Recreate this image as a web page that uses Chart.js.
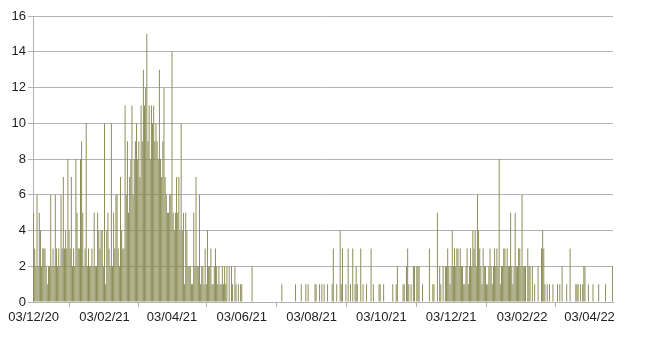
<!DOCTYPE html>
<html>
<head>
<meta charset="utf-8">
<script src="https://cdn.jsdelivr.net/npm/chart.js@4"></script>
<style>
  body { margin: 0; background: #fff; }
  canvas { display: block; }
</style>
</head>
<body>
<canvas id="grafico" width="650" height="341"></canvas>
<script>
// primeiro dia da serie (03/12/2020)
const startDate = [2020, 11, 3];

// contagem diaria, um valor por dia a partir de 03/12/20
const dailyCounts = [
  5,3,2,6,2,5,4,2,3,3,  3,2,1,2,2,6,2,3,2,6,  3,2,3,2,6,3,7,3,4,3,
  8,4,3,7,2,3,2,8,5,3,  3,8,9,5,2,3,10,2,3,2, 2,3,2,5,2,2,5,4,3,4,
  4,2,10,1,4,5,3,2,10,2, 5,3,6,6,3,2,7,4,3,3, 11,6,9,5,7,8,11,6,8,9,
  10,8,9,7,11,9,13,11,12,15, 9,11,8,11,10,11,9,10,9,8, 13,8,7,9,12,7,6,5,5,6,
  6,14,5,4,5,7,5,7,4,10, 4,5,1,5,4,2,2,2,1,1, 5,2,7,2,2,6,1,2,2,1,
  3,1,4,2,2,3,1,1,2,3,  2,1,2,1,1,2,1,2,1,2,  0,2,0,2,1,0,2,1,0,1,
  0,1,1,0,0,0,0,0,0,0,  0,2,0,0,0,0,0,0,0,0,  0,0,0,0,0,0,0,0,0,0,
  0,0,0,0,0,0,0,1,0,0,  0,0,0,0,0,0,0,0,0,1,  0,0,0,0,1,0,0,0,1,0,
  1,0,0,0,0,0,1,1,0,0,  1,0,1,0,1,0,0,1,0,0,  0,1,3,0,0,1,0,0,4,1,
  3,0,0,1,0,3,0,1,0,3,  0,1,2,1,0,0,3,0,1,0,  0,1,0,0,0,3,0,1,0,0,
  0,0,1,1,0,0,1,0,0,0,  0,0,0,0,1,0,0,1,2,0,  0,0,0,1,1,0,2,3,1,0,
  1,0,2,2,0,2,2,2,0,0,  1,0,0,0,0,0,3,0,0,1,  1,0,0,5,0,2,1,0,2,0,
  2,2,3,2,1,2,4,2,3,2,  3,3,2,3,2,2,1,1,2,3,  1,2,3,2,4,3,4,2,6,4,
  3,2,1,3,2,2,1,1,2,3,  2,1,2,3,2,3,2,8,1,2,  2,3,3,2,3,2,2,5,2,1,
  2,5,2,2,3,3,2,6,2,2,  2,0,3,2,2,0,2,0,1,0,  0,2,0,0,3,4,3,1,0,1,
  0,1,0,0,1,0,0,0,1,0,  1,0,2,0,0,0,1,0,0,3,  0,0,0,0,1,1,1,0,1,0,
  1,2,2,0,0,1,0,0,0,1,  0,0,0,0,1,0,0,0,0,0,  1,0,0,0,0,0,2
];

// datas que aparecem no eixo x
const tickLabels = ['03/12/20','03/02/21','03/04/21','03/06/21','03/08/21',
                    '03/10/21','03/12/21','03/02/22','03/04/22'];

// eixo y
const yMin = 0, yMax = 16, yStep = 2;

function fmt(d) {
  const dd = String(d.getUTCDate()).padStart(2, '0');
  const mm = String(d.getUTCMonth() + 1).padStart(2, '0');
  const yy = String(d.getUTCFullYear()).slice(2);
  return dd + '/' + mm + '/' + yy;
}

let days = [];
for (let i = 0; i < dailyCounts.length; i++) {
  days.push(fmt(new Date(Date.UTC(startDate[0], startDate[1], startDate[2] + i))));
}

const fonte = { family: 'Liberation Sans', size: 13 };
const cinza = '#b3b3b3';

const ctx = document.getElementById('grafico');

new Chart(ctx, {
  type: 'bar',
  data: {
    labels: days,
    datasets: [{
      data: dailyCounts,
      backgroundColor: '#8a8c55',
      borderWidth: 0,
      barPercentage: 1,
      categoryPercentage: 0.85
    }]
  },
  options: {
    responsive: false,
    animation: false,
    layout: { padding: { top: 16, right: 37, left: 0, bottom: 0 } },
    plugins: { legend: { display: false }, tooltip: { enabled: false } },
    scales: {
      x: {
        offset: true,
        afterFit: s => { s.height = 39; },
        grid: { drawOnChartArea: false, drawTicks: true, tickLength: 5, color: cinza },
        border: { color: cinza },
        ticks: {
          autoSkip: false, maxRotation: 0, minRotation: 0,
          color: '#222', font: fonte, padding: 3,
          callback: function (val, i) {
            const l = days[i];
            return tickLabels.includes(l) ? l : null;
          }
        }
      },
      y: {
        min: yMin, max: yMax,
        afterFit: s => { s.width = 33; },
        grid: { color: cinza, tickLength: 5 },
        border: { color: cinza },
        ticks: { stepSize: yStep, color: '#222', font: fonte, padding: 2 }
      }
    }
  }
});
</script>
</body>
</html>
